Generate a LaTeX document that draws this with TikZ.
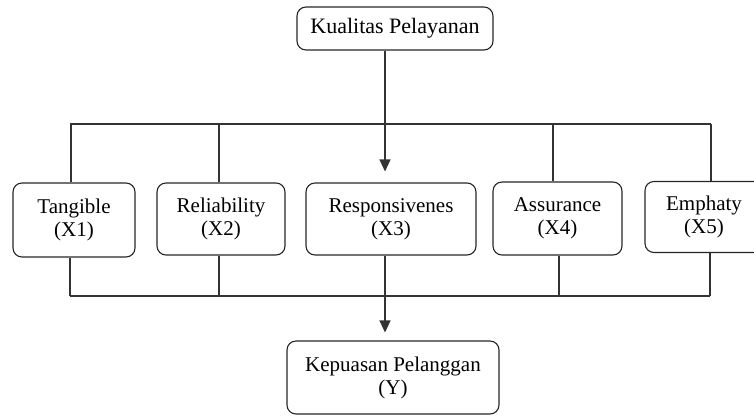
\documentclass[tikz,border=0pt]{standalone}
\usepackage{fontspec}
\setmainfont{Liberation Serif}
\usetikzlibrary{arrows.meta,calc}
\begin{document}
\begin{tikzpicture}[x=1pt,y=-1pt,
  box/.style={draw=black!85,line width=1.1pt,rounded corners=9pt,align=center,
    inner sep=0pt,font=\fontsize{21}{23}\selectfont,text=black},
  wire/.style={draw=black!80,line width=1.1pt},
  arr/.style={wire,-{Triangle[length=12pt,width=11pt]}}]
\useasboundingbox (0,0) rectangle (754,418);
\clip (0,0) rectangle (754,418);
\node[box,minimum width=196pt,minimum height=43pt,font=\fontsize{22}{23}\selectfont] (kp) at (395,28.5) {Kualitas Pelayanan};
\node[box,minimum width=122pt,minimum height=74pt] (x1) at (74,220) {Tangible\\(X1)};
\node[box,minimum width=128pt,minimum height=72pt] (x2) at (221,219) {Reliability\\(X2)};
\node[box,minimum width=170pt,minimum height=72pt] (x3) at (391,219) {Responsivenes\\(X3)};
\node[box,minimum width=129pt,minimum height=73pt] (x4) at (557.5,218.5) {Assurance\\(X4)};
\node[box,minimum width=118pt,minimum height=71pt] (x5) at (704,217) {Emphaty\\(X5)};
\node[box,minimum width=212pt,minimum height=73pt] (y) at (393,377.5) {Kepuasan Pelanggan\\(Y)};
% bus coordinates
\coordinate (tl) at (70,124);
\coordinate (tr) at (711,124);
\coordinate (bl) at (70,296);
\coordinate (br) at (710,296);
\coordinate (ax) at (385,0);
% top bus
\draw[wire] (tl) -- (tr);
\draw[wire] (tl -| 71,0) -- (x1.north -| 71,0);
\draw[wire] (tl -| 219,0) -- (x2.north -| 219,0);
\draw[wire] (tl -| 553,0) -- (x4.north -| 553,0);
\draw[wire] (tr) -- (x5.north -| tr);
% bottom bus
\draw[wire] (bl) -- (br);
\draw[wire] (x1.south -| bl) -- (bl);
\draw[wire] (x2.south -| 219,0) -- (bl -| 219,0);
\draw[wire] (x4.south -| 559,0) -- (bl -| 559,0);
\draw[wire] (x5.south -| br) -- (br);
% arrows
\draw[arr,shorten >=11pt] (kp.south -| ax) -- (x3.north -| ax);
\draw[arr,shorten >=8pt] (x3.south -| ax) -- (y.north -| ax);
\end{tikzpicture}
\end{document}
